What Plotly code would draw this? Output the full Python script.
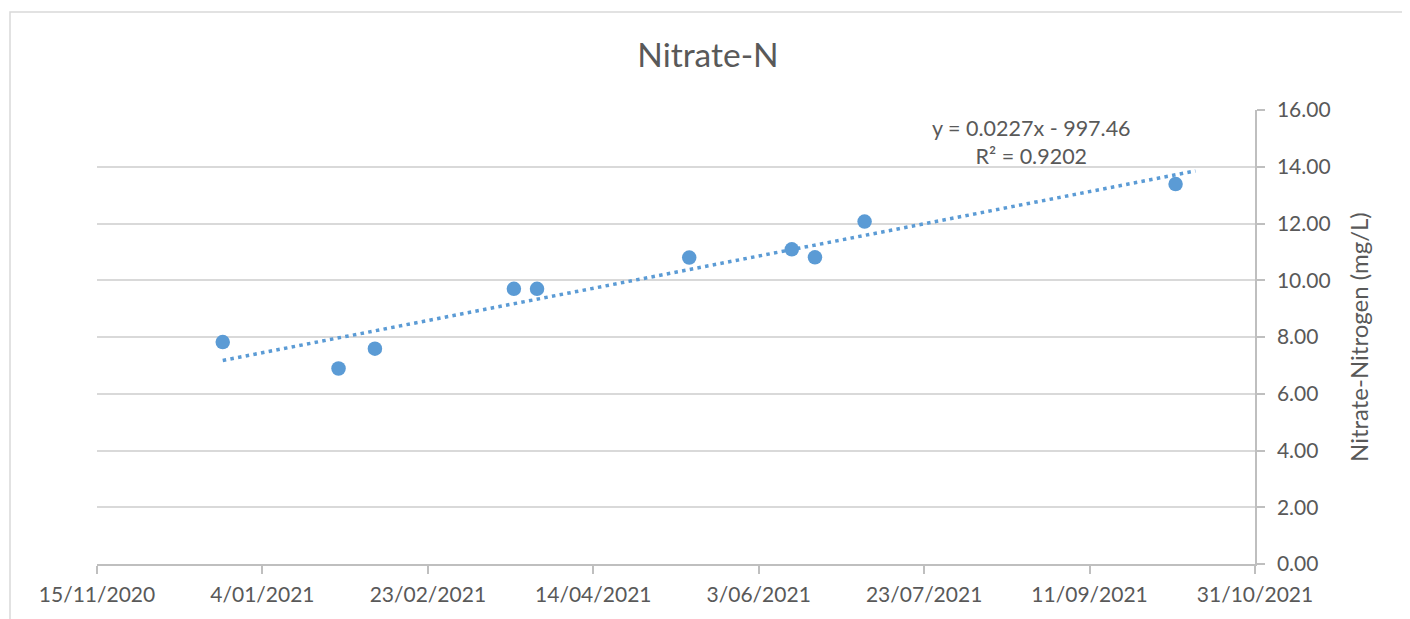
import numpy as np
import pandas as pd
import plotly.graph_objects as go

# ---- data ----
sample_dates = ["2020-12-23", "2021-01-27", "2021-02-07", "2021-03-21", "2021-03-28",
                "2021-05-13", "2021-06-13", "2021-06-20", "2021-07-05", "2021-10-07"]
nitrate_n = [7.82, 6.89, 7.59, 9.70, 9.70, 10.80, 11.09, 10.81, 12.07, 13.39]

x_tick_dates = ["2020-11-15", "2021-01-04", "2021-02-23", "2021-04-14", "2021-06-03",
                "2021-07-23", "2021-09-11", "2021-10-31"]
x_tick_labels = ["15/11/2020", "4/01/2021", "23/02/2021", "14/04/2021", "3/06/2021",
                 "23/07/2021", "11/09/2021", "31/10/2021"]
y_tick_vals = [0, 2, 4, 6, 8, 10, 12, 14, 16]

title_text = "Nitrate-N"
y_title = "Nitrate-Nitrogen (mg/L)"
eq_text = "y = 0.0227x - 997.46<br>R² = 0.9202"
TREND_FORWARD_DAYS = 6

# ---- linear trendline (least squares on the data) ----
d = pd.to_datetime(sample_dates)
t0 = d[0]
days = np.array([(v - t0).days for v in d], dtype=float)
slope, intercept = np.polyfit(days, np.array(nitrate_n), 1)
trend_days = np.array([days[0], days[-1] + TREND_FORWARD_DAYS])
trend_x = [t0 + pd.Timedelta(days=float(v)) for v in trend_days]
trend_y = slope * trend_days + intercept

BLUE = "#5B9BD5"
TXT = "#595959"
GRID = "#D9D9D9"
AX = "#BFBFBF"
FONT = "Lato"

# page body has an 8px margin, so the figure is 8px smaller and offset
W, H = 1402, 611
L, R, T, B = 89, 155, 102, 55
PW = W - L - R
PH = H - T - B


def px_x(x):  # figure pixel -> paper x
    return (x - L) / PW


def px_y(y):  # figure pixel -> paper y
    return (H - B - y) / PH


fig = go.Figure()
fig.add_trace(go.Scatter(x=trend_x, y=trend_y, mode="lines",
                         line=dict(color=BLUE, width=3.5, dash="3.5px,4.3px"),
                         hoverinfo="skip", showlegend=False))
fig.add_trace(go.Scatter(x=d, y=nitrate_n, mode="markers",
                         marker=dict(color=BLUE, size=14.5, line=dict(width=0)),
                         showlegend=False))

fig.update_layout(
    width=W, height=H,
    margin=dict(l=L, r=R, t=T, b=B),
    paper_bgcolor="white", plot_bgcolor="white",
    font=dict(family=FONT, color=TXT, size=21),
    title=dict(text=title_text, x=700 / W, xanchor="center",
               y=1 - 47 / H, yanchor="middle",
               font=dict(family=FONT, size=33.5, color=TXT)),
    showlegend=False,
)
fig.update_xaxes(
    type="date", range=[x_tick_dates[0], x_tick_dates[-1]],
    tickmode="array", tickvals=x_tick_dates, ticktext=x_tick_labels,
    showgrid=False, zeroline=False,
    showline=True, linecolor=AX, linewidth=1.5,
    ticks="outside", ticklen=8, tickcolor=AX, tickwidth=1.5,
    ticklabelstandoff=3,
    tickfont=dict(family=FONT, size=21, color=TXT),
)
fig.update_yaxes(
    range=[0, 16], tickmode="array", tickvals=y_tick_vals, tickformat=".2f",
    side="right",
    showgrid=True, gridcolor=GRID, gridwidth=1.5, zeroline=False,
    showline=True, linecolor=AX, linewidth=1.5,
    ticks="outside", ticklen=8, tickcolor=AX, tickwidth=1.5,
    ticklabelstandoff=8,
    tickfont=dict(family=FONT, size=21, color=TXT),
)

# axis title (rotated, right side)
fig.add_annotation(text=y_title, xref="paper", yref="paper",
                   x=px_x(1350), y=0.5, xanchor="center", yanchor="middle",
                   textangle=-90, showarrow=False,
                   font=dict(family=FONT, size=24, color=TXT))
# trendline equation
fig.add_annotation(text=eq_text, xref="paper", yref="paper",
                   x=px_x(1024), y=px_y(134), align="center",
                   xanchor="center", yanchor="middle", showarrow=False,
                   font=dict(family=FONT, size=21.5, color=TXT))

# chart-area border
fig.add_shape(type="rect", xref="paper", yref="paper",
              x0=px_x(2), x1=px_x(1398), y0=px_y(640), y1=px_y(4),
              line=dict(color=GRID, width=1.5), fillcolor="rgba(0,0,0,0)", layer="below")

fig.write_html("out.html")
